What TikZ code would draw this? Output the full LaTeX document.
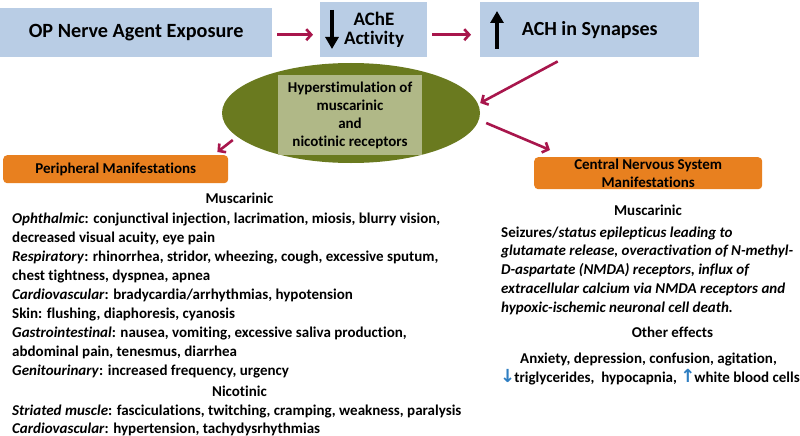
\documentclass[tikz,border=0pt]{standalone}
\usepackage{fontspec}
\setmainfont{Carlito}[Ligatures=NoCommon]
\newfontfamily\symfont{DejaVu Sans}
\usetikzlibrary{arrows.meta,shapes.geometric,calc}
\definecolor{boxblue}{HTML}{B9CDE5}
\definecolor{crimson}{HTML}{A8164C}
\definecolor{olivedark}{HTML}{6A7A1F}
\definecolor{olivelight}{HTML}{B0B887}
\definecolor{orangebox}{HTML}{E8801F}
\definecolor{arrowblue}{HTML}{2E7EC2}
\newcommand{\bluearr}[1]{{\symfont\fontsize{18}{18}\selectfont\color{arrowblue}#1}}
\begin{document}
\begin{tikzpicture}[x=1pt,y=-1pt,
  topbox/.style={fill=boxblue,draw=none,inner sep=0,anchor=north west},
  orbox/.style={fill=orangebox,draw=none,rounded corners=4pt,inner sep=0,anchor=north west,align=center,font=\bfseries\fontsize{15}{18}\selectfont},
  flow/.style={draw=crimson,line width=2.6pt,-{Straight Barb[length=5pt,width=11pt]}},
  bodyl/.style={anchor=base west,inner sep=0,font=\bfseries\fontsize{15}{18}\selectfont},
  headc/.style={anchor=base,inner sep=0,font=\bfseries\fontsize{15}{18}\selectfont},
  bodyc/.style={anchor=base,inner sep=0,font=\bfseries\fontsize{15}{18}\selectfont}]
\useasboundingbox[fill=white] (0,0) rectangle (800,436);
% top row
\node[topbox,minimum width=272pt,minimum height=49pt,font=\bfseries\fontsize{20.2}{24}\selectfont] (op) at (0,8) {OP Nerve Agent Exposure};
\node[topbox,minimum width=107pt,minimum height=55pt] (ache) at (320,2) {};
\node[anchor=center,align=center,inner sep=0,font=\bfseries\fontsize{19}{19}\selectfont] (achet) at (374,30) {AChE\\Activity};
\draw[line width=4pt,-{Triangle[length=12pt,width=13pt]}] (332,10) coordinate (da1) -- (332,49) coordinate (da2);
\node[topbox,minimum width=219pt,minimum height=55pt,font=\bfseries\fontsize{20}{22}\selectfont] (syn) at (480,2) {ACH in Synapses};
\draw[line width=4pt,-{Triangle[length=12pt,width=13pt]}] (497,49) coordinate (ua1) -- (497,11) coordinate (ua2);
% ellipse
\node[ellipse,fill=olivedark,minimum width=258pt,minimum height=100pt,inner sep=0] (hyp) at (351,113) {};
\node[fill=olivelight,minimum width=144pt,minimum height=80pt,inner sep=0,align=center,font=\bfseries\fontsize{15}{18}\selectfont] (hypt) at (350,115) {Hyperstimulation of\\muscarinic\\and\\nicotinic receptors};
% orange boxes
\node[orbox,minimum width=225pt,minimum height=28pt] (per) at (3,155) {Peripheral Manifestations};
\node[orbox,minimum width=228pt,minimum height=32pt] (cns) at (534,157) {Central Nervous System\\Manifestations};
% arrows
\draw[flow] ($(op.east)+(5,2)$) -- ($(ache.west)+(-7,5)$);
\draw[flow] ($(ache.east)+(5,5)$) -- ($(syn.west)+(-9,5)$);
\draw[flow] ($(syn.south)+(-32,4)$) -- ($(hyp.east)+(0,-10)$);
\draw[flow] ($(hyp.west)+(11,27)$) -- ($(per.north east)+(-11,-3)$);
\draw[flow] ($(hyp.east)+(6,10)$) -- ($(cns.north west)+(16,-7)$);
% left text
\node[headc] (lm) at (239.5,203) {Muscarinic};
\node[bodyl] (l1) at (12,223) {\textit{Ophthalmic}: conjunctival injection, lacrimation, miosis, blurry vision,};
\node[bodyl] (l2) at (12,242) {decreased visual acuity, eye pain};
\node[bodyl] (l3) at (12,261) {\textit{Respiratory}: rhinorrhea, stridor, wheezing, cough, excessive sputum,};
\node[bodyl] (l4) at (12,280) {chest tightness, dyspnea, apnea};
\node[bodyl] (l5) at (12,299) {\textit{Cardiovascular}: bradycardia/arrhythmias, hypotension};
\node[bodyl] (l6) at (12,318) {Skin: flushing, diaphoresis, cyanosis};
\node[bodyl] (l7) at (12,337) {\textit{Gastrointestinal}: nausea, vomiting, excessive saliva production,};
\node[bodyl] (l8) at (12,356) {abdominal pain, tenesmus, diarrhea};
\node[bodyl] (l9) at (12,375) {\textit{Genitourinary}: increased frequency, urgency};
\node[headc] (ln) at (239.5,396) {Nicotinic};
\node[bodyl] (l10) at (12,415) {\textit{Striated muscle}: fasciculations, twitching, cramping, weakness, paralysis};
\node[bodyl] (l11) at (12,433) {\textit{Cardiovascular}: hypertension, tachydysrhythmias};
% right text
\node[headc] (rm) at (648,215) {Muscarinic};
\node[bodyl] (r1) at (501,237) {Seizures/\textit{status epilepticus leading to}};
\node[bodyl] (r2) at (501,255) {\textit{glutamate release, overactivation of N-methyl-}};
\node[bodyl] (r3) at (501,274) {\textit{D-aspartate (NMDA) receptors, influx of}};
\node[bodyl] (r4) at (501,293) {\textit{extracellular calcium via NMDA receptors and}};
\node[bodyl] (r5) at (501,312) {\textit{hypoxic-ischemic neuronal cell death.}};
\node[headc] (ro) at (672.5,337) {Other effects};
\node[bodyc] (ra) at (648.5,363) {Anxiety, depression, confusion, agitation,};
\node[bodyc] (rb) at (650,382) {\bluearr{↓}\kern-1pt triglycerides,\ \ hypocapnia, \bluearr{↑}\kern-1pt white blood cells};
\end{tikzpicture}
\end{document}
